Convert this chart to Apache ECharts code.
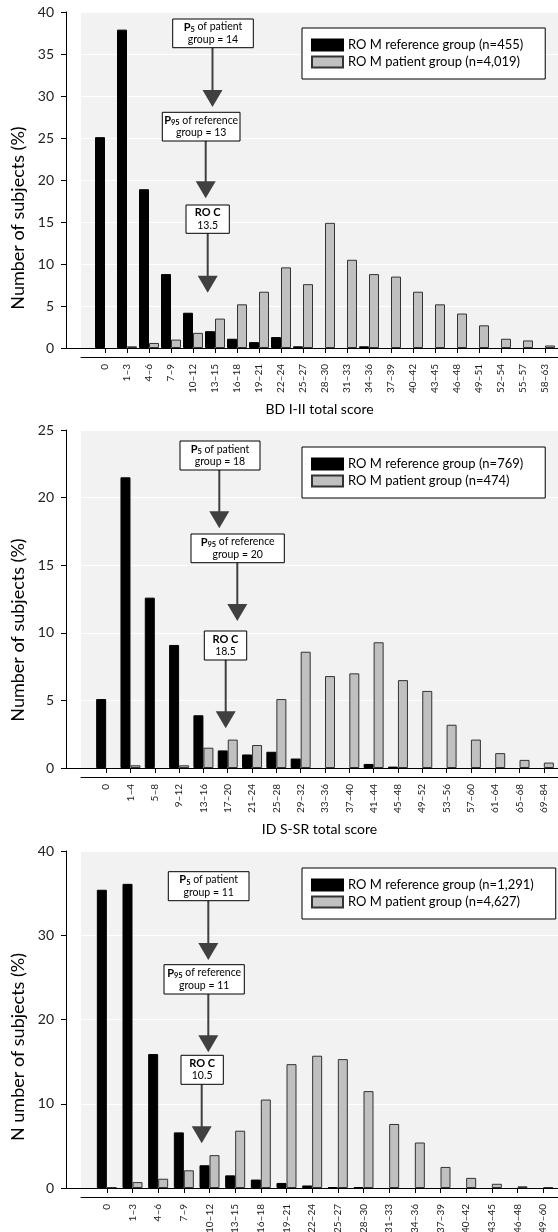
<!DOCTYPE html>
<html>
<head>
<meta charset="utf-8">
<script src="https://cdn.jsdelivr.net/npm/echarts@6/dist/echarts.min.js"></script>
<style>html,body{margin:0;padding:0;background:#fff}#c{width:558px;height:1232px}</style>
</head>
<body>
<div id="c"></div>
<script>
// ---------- DATA ----------
const bdiCats = ['0','1–3','4–6','7–9','10–12','13–15','16–18','19–21','22–24','25–27','28–30','31–33','34–36','37–39','40–42','43–45','46–48','49–51','52–54','55–57','58–63'];
const bdiRef  = [25.1,37.9,18.9,8.8,4.2,2.0,1.1,0.7,1.3,0.2,0,0,0.2,0,0,0,0,0,0,0,0];
const bdiPat  = [0,0.2,0.6,1.0,1.8,3.5,5.2,6.7,9.6,7.6,14.9,10.5,8.8,8.5,6.7,5.2,4.1,2.7,1.1,0.9,0.3];

const idsCats = ['0','1–4','5–8','9–12','13–16','17–20','21–24','25–28','29–32','33–36','37–40','41–44','45–48','49–52','53–56','57–60','61–64','65–68','69–84'];
const idsRef  = [5.1,21.5,12.6,9.1,3.9,1.3,1.0,1.2,0.7,0,0,0.3,0.1,0,0,0,0,0,0];
const idsPat  = [0,0.2,0,0.2,1.5,2.1,1.7,5.1,8.6,6.8,7.0,9.3,6.5,5.7,3.2,2.1,1.1,0.6,0.4];

const p3Cats = ['0','1–3','4–6','7–9','10–12','13–15','16–18','19–21','22–24','25–27','28–30','31–33','34–36','37–39','40–42','43–45','46–48','49–60'];
const p3Ref  = [35.4,36.1,15.9,6.6,2.7,1.5,1.0,0.6,0.3,0.1,0.1,0,0,0,0,0,0,0];
const p3Pat  = [0.1,0.7,1.1,2.1,3.9,6.8,10.5,14.7,15.7,15.3,11.5,7.6,5.4,2.5,1.2,0.5,0.2,0.1];

const refNames = ['RO M reference group (n=455)','RO M reference group (n=769)','RO M reference group (n=1,291)'];
const patNames = ['RO M patient group (n=4,019)','RO M patient group (n=474)','RO M patient group (n=4,627)'];
const xTitles  = ['BD I-II total score','ID S-SR total score',''];
const yTitles  = ['Number of subjects (%)','Number of subjects (%)','N umber of subjects (%)'];
const yMax     = [40,25,40];
const yStep    = [5,5,10];

const p5Vals   = ['14','18','11'];
const p95Vals  = ['13','20','11'];
const rocVals  = ['13.5','18.5','10.5'];

// ---------- LAYOUT ----------
const FONT = 'Lato, "Open Sans", sans-serif';
const panels = [
  {top:12,  h:336, legTop:28,  yTitleY:218, ann:[[172.7,19,253.3,47.7,212.5,107],[162.3,112.3,240,141,205.7,198.3],[186,205,229.3,233.3,207.7,292.7]]},
  {top:430, h:338, legTop:447, yTitleY:630, ann:[[180,441,260,470,219.3,528.3],[191,534,284.3,562.7,237.3,621],[204.3,631,246.7,660,225.7,728.3]]},
  {top:851, h:337, legTop:868, yTitleY:1047, ann:[[168.3,871.7,249,900.7,208.3,960],[164,964.7,244.3,994,208.3,1052.3],[181,1055.3,223.3,1084.3,201.7,1143.3]]}
];
const cats = [bdiCats, idsCats, p3Cats];
const refs = [bdiRef, idsRef, p3Ref];
const pats = [bdiPat, idsPat, p3Pat];

const grid = [], xAxis = [], yAxis = [], series = [], legend = [], graphic = [];
const hideZero = v => v === 0 ? {value:0, itemStyle:{borderWidth:0, opacity:0}} : v;

panels.forEach((p, i) => {
  const gi = grid.length;
  grid.push({left:66, right:0, top:p.top, height:p.h, outerBoundsMode:'none', containLabel:false});
  grid.push({left:81, right:0, top:p.top, height:p.h, show:true, backgroundColor:'#f2f2f2', borderWidth:0, outerBoundsMode:'none', containLabel:false});
  grid.push({left:94, right:2, top:p.top, height:p.h, outerBoundsMode:'none', containLabel:false});

  xAxis.push({gridIndex:gi, type:'value', min:0, max:1, axisLine:{show:true, onZero:false, lineStyle:{color:'#000', width:1}}, axisTick:{show:false}, axisLabel:{show:false}, splitLine:{show:false}, z:5});
  xAxis.push({gridIndex:gi+1, type:'value', min:0, max:1, offset:9, axisLine:{show:true, onZero:false, lineStyle:{color:'#000', width:1}}, axisTick:{show:false}, axisLabel:{show:false}, splitLine:{show:false},
    name:xTitles[i], nameLocation:'middle', nameGap:45, nameTextStyle:{fontFamily:FONT, fontSize:14, color:'#000'}});
  xAxis.push({gridIndex:gi+2, type:'category', data:cats[i], offset:9, axisLine:{show:false}, axisTick:{show:true, alignWithLabel:true, length:5, lineStyle:{color:'#000'}},
    axisLabel:{rotate:90, fontSize:10, fontFamily:FONT, color:'#222', margin:7, interval:0}});

  yAxis.push({gridIndex:gi, type:'value', min:0, max:yMax[i], interval:yStep[i], axisLine:{show:true, lineStyle:{color:'#000'}}, axisTick:{show:true, length:5, lineStyle:{color:'#000'}},
    axisLabel:{fontSize:14, fontFamily:FONT, color:'#222', margin:12}, splitLine:{show:false}});
  yAxis.push({gridIndex:gi+1, type:'value', min:0, max:yMax[i], interval:yStep[i], axisLine:{show:false}, axisTick:{show:false}, axisLabel:{show:false}, splitLine:{show:true, lineStyle:{color:'#ffffff', width:1}}});
  yAxis.push({gridIndex:gi+2, type:'value', min:0, max:yMax[i], interval:yStep[i], show:false});

  series.push({type:'bar', name:refNames[i], xAxisIndex:gi+2, yAxisIndex:gi+2, data:refs[i].map(hideZero), barWidth:10, barGap:'0%',
    itemStyle:{color:'#000', borderColor:'#000', borderWidth:1}, z:3});
  series.push({type:'bar', name:patNames[i], xAxisIndex:gi+2, yAxisIndex:gi+2, data:pats[i].map(hideZero), barWidth:10, barGap:'0%',
    itemStyle:{color:'#c0c0c0', borderColor:'#333', borderWidth:1}, z:3});

  legend.push({data:[refNames[i], patNames[i]], orient:'vertical', left:302, top:p.legTop, itemWidth:31, itemHeight:11, itemGap:1,
    padding:[9,22,9,9], backgroundColor:'#fff', borderColor:'#000', borderWidth:1, borderRadius:0, selectedMode:false,
    icon:'rect', textStyle:{fontFamily:FONT, fontSize:13, color:'#000', lineHeight:16}});

  graphic.push({type:'text', x:18, y:p.yTitleY, rotation:Math.PI/2, z:12,
    style:{text:yTitles[i], align:'center', verticalAlign:'middle', fill:'#000', font:'18px ' + FONT}});

  const texts = [
    '{b|P}{s|5}{n| of patient}\n{n|group = ' + p5Vals[i] + '}',
    '{b|P}{s|95}{n| of reference}\n{n|group = ' + p95Vals[i] + '}',
    '{b|RO C}\n{n|' + rocVals[i] + '}'
  ];
  p.ann.forEach((a, k) => {
    const [x0,y0,x1,y1,ax,tip] = a;
    graphic.push({type:'line', shape:{x1:ax, y1:y1, x2:ax, y2:tip-15}, style:{stroke:'#404040', lineWidth:2}, z:10});
    graphic.push({type:'polygon', shape:{points:[[ax-10,tip-17],[ax+10,tip-17],[ax,tip]]}, style:{fill:'#404040'}, z:10});
    graphic.push({type:'rect', shape:{x:x0, y:y0, width:x1-x0, height:y1-y0}, style:{fill:'#fff', stroke:'#000', lineWidth:1}, z:11});
    graphic.push({type:'text', x:(x0+x1)/2, y:(y0+y1)/2, z:12, style:{text:texts[k], align:'center', verticalAlign:'middle', fill:'#000',
      font:'10.5px ' + FONT, lineHeight:12.5,
      rich:{
        b:{fontFamily:FONT, fontSize:11, fontWeight:'bold', lineHeight:12.5, verticalAlign:'middle'},
        s:{fontFamily:FONT, fontSize:7.5, fontWeight:'bold', lineHeight:12.5, verticalAlign:'bottom'},
        n:{fontFamily:FONT, fontSize:10.5, lineHeight:12.5, verticalAlign:'middle'}
      }}});
  });
});

const chart = echarts.init(document.getElementById('c'), null, {renderer:'canvas'});
chart.setOption({backgroundColor:'#fff', animation:false, grid, xAxis, yAxis, series, legend, graphic});
</script>
</body>
</html>
